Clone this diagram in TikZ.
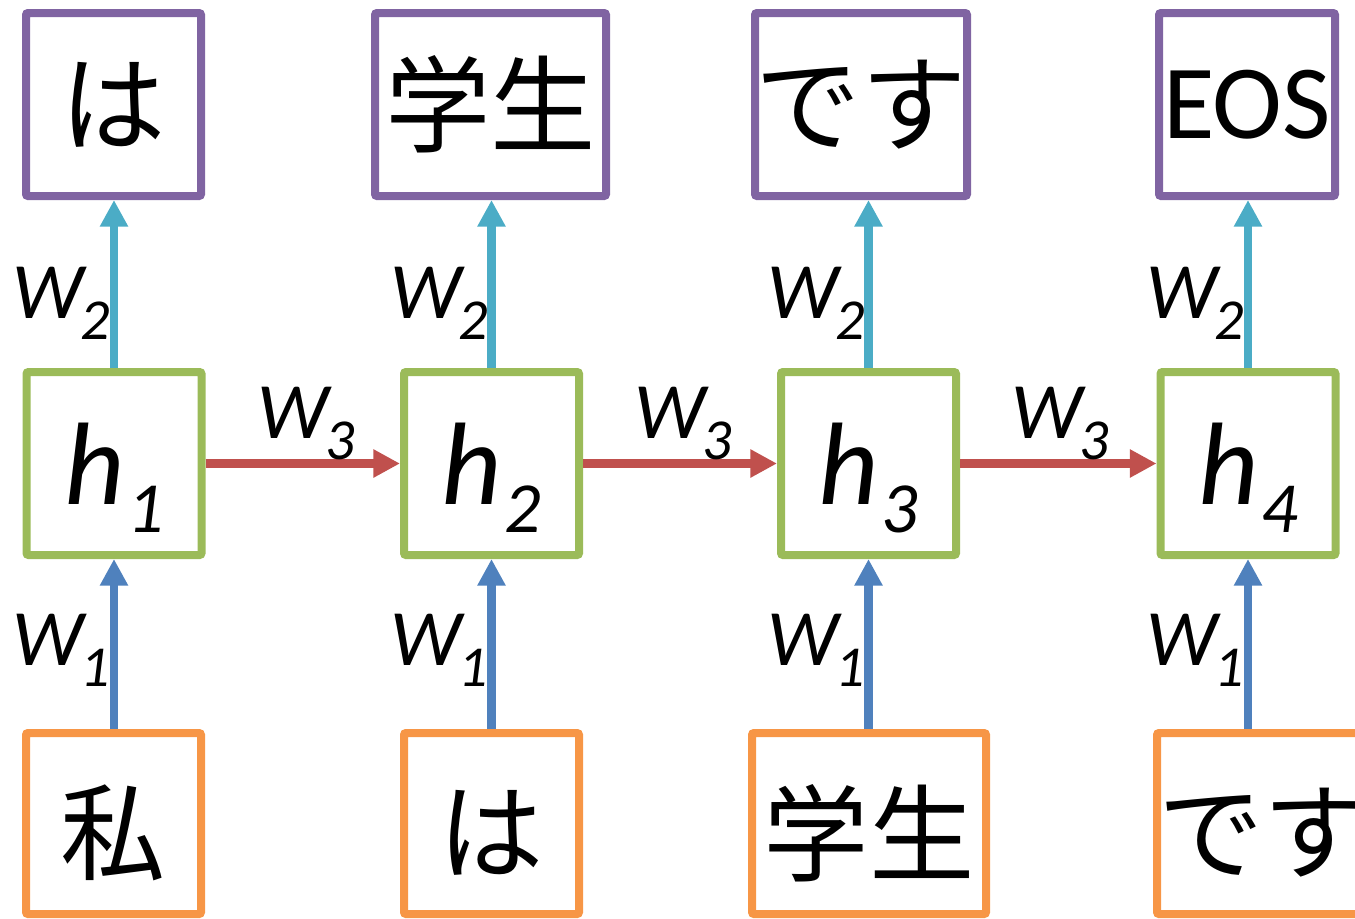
\documentclass[tikz,border=0pt]{standalone}
\usepackage{fontspec}
\usepackage{tikz}
\usetikzlibrary{positioning}
\usetikzlibrary{arrows.meta}
\newfontfamily\jpfont{Noto Sans CJK JP}
\newfontfamily\calfont{Carlito}
\newcommand{\wsub}[1]{{\calfont\itshape\fontsize{60}{60}\selectfont W\kern-2pt\raisebox{-16pt}{\fontsize{43.5}{44}\selectfont #1}}}
\newcommand{\hsub}[1]{{\calfont\itshape\fontsize{88}{88}\selectfont h\kern2pt\raisebox{-21pt}{\fontsize{54}{54}\selectfont #1}}}
\newcommand{\low}[1]{\raisebox{-7pt}[\height][\depth]{#1}}
\definecolor{boxpurple}{RGB}{128,100,162}
\definecolor{boxgreen}{RGB}{155,187,89}
\definecolor{boxorange}{RGB}{247,150,70}
\definecolor{arrblue}{RGB}{79,129,189}
\definecolor{arrcyan}{RGB}{75,172,198}
\definecolor{arrred}{RGB}{192,80,77}

\begin{document}
\begin{tikzpicture}[x=0.75pt,y=0.75pt,yscale=-1,xscale=1,
  wordbox/.style={draw, line width=6pt, rounded corners=1.5pt, inner sep=0pt, font=\jpfont\fontsize{79}{79}\selectfont},
  outbox/.style={wordbox, draw=boxpurple, minimum height=137.25pt},
  inbox/.style={wordbox, draw=boxorange, minimum height=135.75pt},
  statebox/.style={wordbox, draw=boxgreen, minimum width=131.25pt, minimum height=137.25pt, text depth=0pt},
  wire/.style={line width=6.5pt, -{Triangle[width=20pt,length=20pt]}},
  inarrow/.style={wire, draw=arrblue},
  outarrow/.style={wire, draw=arrcyan},
  recarrow/.style={wire, draw=arrred},
  wtag/.style={inner sep=0pt, anchor=base west}]
\useasboundingbox (0,0) rectangle (1355,918);
\clip (0,0) rectangle (1355,918);

%Shape: Square (outputs)
\node[outbox, minimum width=131.25pt] (t1) at (113.5,104.5) {は};
\node[outbox, minimum width=173.25pt] (t2) at (490.5,104.5) {学生};
\node[outbox, minimum width=159pt] (t3) at (861,104.5) {です};
\node[outbox, minimum width=132pt, font=\calfont\fontsize{79}{79}\selectfont] (t4) at (1247,104.5) {EOS};

%Shape: Square (hidden states)
\node[statebox] (m1) at (114,463.5) {\hsub{1}};
\node[statebox] (m2) at (491.5,463.5) {\hsub{2}};
\node[statebox] (m3) at (868.5,463.5) {\hsub{3}};
\node[statebox] (m4) at (1248,463.5) {\hsub{4}};

%Shape: Square (inputs)
\node[inbox, minimum width=131.25pt] (b1) at (113.5,823.5) {\low{私}};
\node[inbox, minimum width=131.25pt] (b2) at (491.5,823.5) {\low{は}};
\node[inbox, minimum width=175.5pt] (b3) at (869,823.5) {\low{学生}};
\node[inbox, minimum width=159.75pt] (b4) at (1263.5,823.5) {\low{です}};

%Straight Lines (input weights)
\draw[inarrow] (m1.south |- b1.north) -- (m1.south);
\draw[inarrow] (m2.south |- b2.north) -- (m2.south);
\draw[inarrow] (m3.south |- b3.north) -- (m3.south);
\draw[inarrow] (m4.south |- b4.north) -- (m4.south);

%Straight Lines (output weights)
\draw[outarrow] (m1.north) -- (m1.north |- t1.south);
\draw[outarrow] (m2.north) -- (m2.north |- t2.south);
\draw[outarrow] (m3.north) -- (m3.north |- t3.south);
\draw[outarrow] (m4.north) -- (m4.north |- t4.south);

%Straight Lines (recurrent weights)
\draw[recarrow] (m1.east) -- (m2.west);
\draw[recarrow] (m2.east) -- (m3.west);
\draw[recarrow] (m3.east) -- (m4.west);

% Text Node
\node[wtag] (lo1) at (12,318) {\wsub{2}};
\node[wtag] (lo2) at (390,318) {\wsub{2}};
\node[wtag] (lo3) at (767,318) {\wsub{2}};
\node[wtag] (lo4) at (1146,318) {\wsub{2}};
% Text Node
\node[wtag] (li1) at (12,665) {\wsub{1}};
\node[wtag] (li2) at (390,665) {\wsub{1}};
\node[wtag] (li3) at (767,665) {\wsub{1}};
\node[wtag] (li4) at (1146,665) {\wsub{1}};
% Text Node
\node[wtag] (lr1) at (257,438) {\wsub{3}};
\node[wtag] (lr2) at (634,438) {\wsub{3}};
\node[wtag] (lr3) at (1011,438) {\wsub{3}};

\end{tikzpicture}
\end{document}
